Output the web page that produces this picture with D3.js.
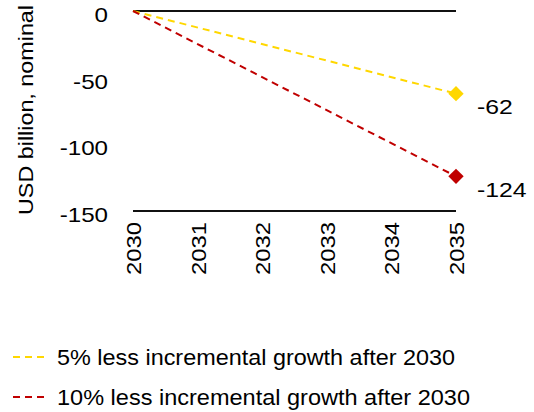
<!DOCTYPE html>
<html>
<head>
<meta charset="utf-8">
<script src="https://cdn.jsdelivr.net/npm/d3@7"></script>
<style>
  html, body { margin: 0; padding: 0; background: #fff; }
  svg { display: block; }
  text { font-family: "Liberation Sans", Arial, sans-serif; fill: #000; }
</style>
</head>
<body>
<svg id="chart" width="534" height="412"></svg>
<script>
const years = [2030, 2031, 2032, 2033, 2034, 2035];
const yTicks = [0, -50, -100, -150];
const seriesNames = ["5% less incremental growth after 2030", "10% less incremental growth after 2030"];
const seriesYears = [2030, 2035];
const series5 = [0, -62];
const series10 = [0, -124];
const seriesColors = ["#FFD700", "#C00000"];
const yTitle = "USD billion, nominal";

const svg = d3.select("#chart");
const x = d3.scaleLinear().domain([2030, 2035]).range([133, 456]);
const y = d3.scaleLinear().domain([-150, 0]).range([211, 11]);
const fmt = d => String(d);

// horizontal lines at 0 and -150
svg.selectAll("line.h").data([0, -150]).enter().append("line")
  .attr("x1", x(2030)).attr("x2", x(2035))
  .attr("y1", d => y(d)).attr("y2", d => y(d))
  .attr("stroke", "#111").attr("stroke-width", 2);

// y axis labels
const yAxis = d3.axisLeft(y).tickValues(yTicks).tickSize(0).tickPadding(0).tickFormat(fmt);
const gy = svg.append("g").attr("transform", "translate(108,0)").call(yAxis);
gy.select(".domain").remove();
gy.selectAll(".tick text").each(function() {
  const t = d3.select(this);
  t.attr("font-size", 21).attr("font-family", "Liberation Sans, Arial, sans-serif")
    .attr("fill", "#000").attr("dy", "0.5em").attr("text-anchor", "end").attr("x", 0);
  const w = this.getComputedTextLength();
  t.attr("textLength", w * 1.15).attr("lengthAdjust", "spacingAndGlyphs");
});

// x axis labels
const xAxis = d3.axisBottom(x).tickValues(years).tickSize(0).tickPadding(0).tickFormat(fmt);
const gx = svg.append("g").attr("transform", "translate(0,222)").call(xAxis);
gx.select(".domain").remove();
gx.selectAll("text")
  .attr("font-size", 21).attr("font-family", "Liberation Sans, Arial, sans-serif").attr("fill", "#000")
  .attr("transform", "rotate(-90)")
  .attr("text-anchor", "end").attr("x", 0).attr("y", 0).attr("dy", "0.36em")
  .attr("textLength", 53).attr("lengthAdjust", "spacingAndGlyphs");

// y title
svg.append("text")
  .attr("transform", "translate(33,110) rotate(-90)")
  .attr("text-anchor", "middle")
  .attr("font-size", 21)
  .attr("textLength", 210).attr("lengthAdjust", "spacingAndGlyphs")
  .text(yTitle);

// lines
const allSeries = [series5, series10];
const line = d3.line().x((d, i) => x(seriesYears[i])).y(d => y(d));
allSeries.forEach((vals, k) => {
  svg.append("path").datum(vals)
    .attr("d", line)
    .attr("fill", "none")
    .attr("stroke", seriesColors[k])
    .attr("stroke-width", 2)
    .attr("stroke-dasharray", "7,5");
  const last = vals.length - 1;
  svg.append("path")
    .attr("d", d3.symbol().type(d3.symbolDiamond2).size(150)())
    .attr("transform", `translate(${x(seriesYears[last])},${y(vals[last])})`)
    .attr("fill", seriesColors[k]);
  const lbl = svg.append("text")
    .attr("x", x(seriesYears[last]) + 21)
    .attr("y", y(vals[last]) + 13)
    .attr("dy", "0.36em")
    .attr("font-size", 21)
    .text(fmt(vals[last]));
  const w = lbl.node().getComputedTextLength();
  lbl.attr("textLength", w * 1.18).attr("lengthAdjust", "spacingAndGlyphs");
});

// legend
seriesNames.forEach((name, k) => {
  const ly = 357 + k * 40;
  svg.append("line")
    .attr("x1", 13).attr("x2", 46).attr("y1", ly).attr("y2", ly)
    .attr("stroke", seriesColors[k]).attr("stroke-width", 2)
    .attr("stroke-dasharray", "7,5");
  svg.append("text")
    .attr("x", 57).attr("y", ly).attr("dy", "0.36em")
    .attr("font-size", 22)
    .attr("font-family", "Inter, Liberation Sans, sans-serif")
    .attr("textLength", k === 0 ? 398 : 413).attr("lengthAdjust", "spacingAndGlyphs")
    .text(name);
});
</script>
</body>
</html>
